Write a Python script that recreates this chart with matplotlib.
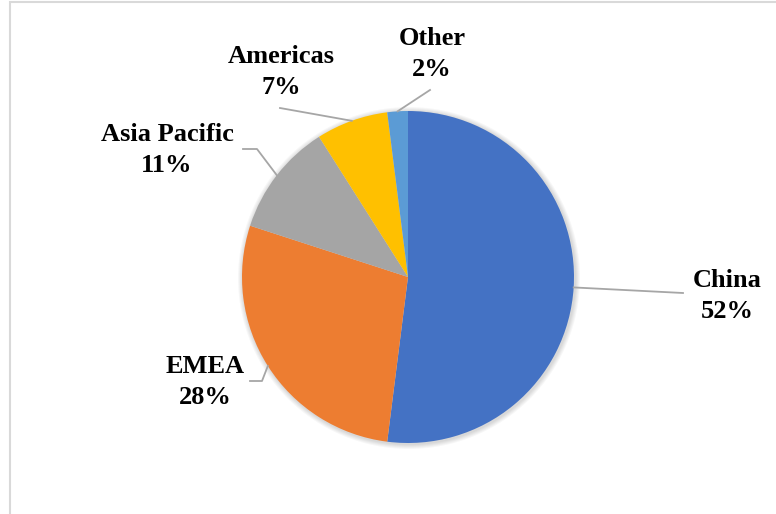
import numpy as np
import matplotlib
matplotlib.use("Agg")
import matplotlib.pyplot as plt
from matplotlib.patches import Rectangle, Circle

regions = ["China", "EMEA", "Asia Pacific", "Americas", "Other"]
shares = [52, 28, 11, 7, 2]
colors = ["#4472C4", "#ED7D31", "#A5A5A5", "#FFC000", "#5B9BD5"]

# label centre (x, y of text block) and leader line elbow, in pixel space
label_pos = [(727, 296), (205, 382), (167, 150), (281, 72), (432, 54)]
leader_end = [[(683, 293)], [(262, 381), (250, 381)], [(257, 149), (243, 149)],
              [(280, 108)], [(430, 90)]]

W, H = 776, 514
cx, cy, r = 408, 277, 166

fig = plt.figure(figsize=(W / 100, H / 100), dpi=100)
ax = fig.add_axes([0, 0, 1, 1])

# soft shadow around the pie
for k in range(1, 6):
    ax.add_patch(Circle((cx + 1, H - cy - 1), r + k, color="black",
                        alpha=0.03, lw=0, zorder=0))

wedges, _ = ax.pie(shares, colors=colors, startangle=90, counterclock=False,
                   center=(cx, H - cy), radius=r, frame=True,
                   wedgeprops=dict(linewidth=0))
ax.set_xlim(0, W)
ax.set_ylim(0, H)
ax.set_aspect("equal")
ax.axis("off")

for w, name, val, (lx, ly), pts in zip(wedges, regions, shares, label_pos, leader_end):
    mid = np.deg2rad((w.theta1 + w.theta2) / 2)
    ax_pt = (cx + r * np.cos(mid), H - cy + r * np.sin(mid))
    xs = [ax_pt[0]] + [p[0] for p in pts]
    ys = [ax_pt[1]] + [H - p[1] for p in pts]
    ax.plot(xs, ys, color="#A6A6A6", lw=1.3, zorder=1)
    ax.text(lx, H - ly, f"{name}\n{val}%", ha="center", va="center",
            fontsize=19, fontweight="bold", family="Liberation Serif",
            linespacing=1.45)

# chart border (top and left edges visible, rest runs off the image)
fig.patches.append(Rectangle((9.5 / W, -0.1), 2, 1.1 - 2.5 / H,
                             transform=fig.transFigure, fill=False,
                             edgecolor="#D9D9D9", lw=1.5))

fig.savefig("out.png", dpi=100)
